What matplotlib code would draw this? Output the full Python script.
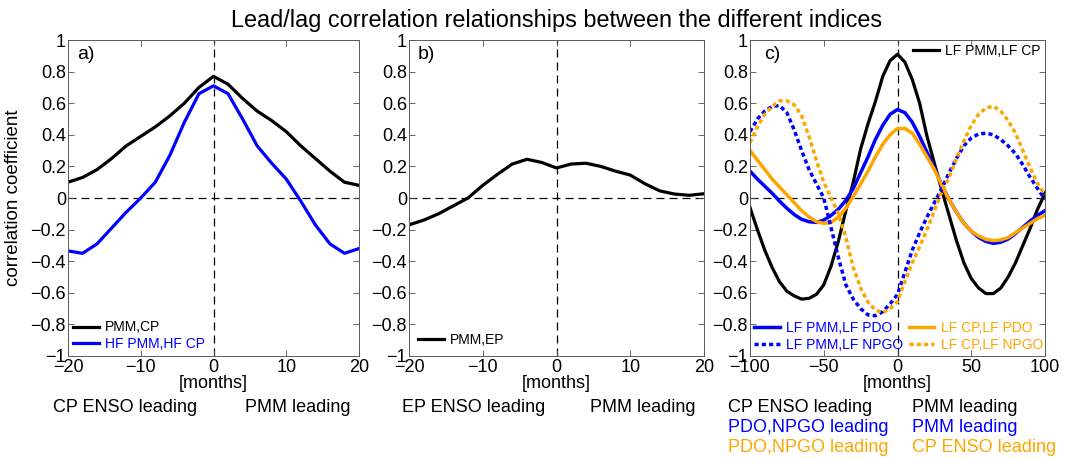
import numpy as np
import matplotlib
matplotlib.use('Agg')
import matplotlib.pyplot as plt

plt.rcParams['font.family'] = ['Liberation Sans', 'DejaVu Sans']

# panel a / b: lags in months
lags_ab = np.arange(-20, 21, 2)
pmm_cp = [0.10, 0.13, 0.18, 0.25, 0.33, 0.39, 0.45, 0.52, 0.60, 0.70, 0.77,
          0.72, 0.63, 0.55, 0.49, 0.42, 0.33, 0.25, 0.17, 0.10, 0.08]
hf_pmm_cp = [-0.335, -0.35, -0.29, -0.19, -0.09, 0.00, 0.10, 0.27, 0.48, 0.66, 0.71,
             0.66, 0.50, 0.33, 0.22, 0.12, -0.02, -0.17, -0.29, -0.35, -0.32]
pmm_ep = [-0.17, -0.14, -0.10, -0.05, 0.00, 0.08, 0.15, 0.215, 0.245, 0.225, 0.19,
          0.215, 0.22, 0.20, 0.17, 0.145, 0.09, 0.045, 0.025, 0.017, 0.027]

# panel c: low-frequency lags
lags_c = np.arange(-100, 101, 5)
lf_pmm_cp = [-0.06, -0.20, -0.33, -0.44, -0.53, -0.59, -0.62, -0.64, -0.635, -0.61,
             -0.55, -0.43, -0.27, -0.08, 0.10, 0.31, 0.47, 0.61, 0.77, 0.87,
             0.91, 0.86, 0.75, 0.60, 0.39, 0.22, 0.05, -0.11, -0.27, -0.41,
             -0.51, -0.57, -0.605, -0.605, -0.57, -0.50, -0.41, -0.30, -0.19, -0.07, 0.03]
lf_pmm_pdo = [0.17, 0.12, 0.075, 0.03, -0.02, -0.065, -0.105, -0.135, -0.15, -0.155,
              -0.14, -0.11, -0.07, -0.015, 0.06, 0.16, 0.26, 0.37, 0.46, 0.53,
              0.56, 0.54, 0.48, 0.39, 0.29, 0.19, 0.08, -0.01, -0.09, -0.16,
              -0.21, -0.25, -0.275, -0.287, -0.28, -0.26, -0.225, -0.185, -0.145, -0.11, -0.08]
lf_cp_pdo = [0.30, 0.24, 0.18, 0.12, 0.07, 0.02, -0.03, -0.08, -0.12, -0.15,
             -0.16, -0.155, -0.12, -0.065, 0.01, 0.09, 0.17, 0.26, 0.34, 0.40,
             0.44, 0.44, 0.41, 0.34, 0.26, 0.18, 0.08, -0.01, -0.09, -0.16,
             -0.21, -0.24, -0.262, -0.27, -0.265, -0.25, -0.22, -0.19, -0.16, -0.13, -0.11]
lf_pmm_npgo = [0.42, 0.50, 0.55, 0.58, 0.585, 0.54, 0.43, 0.30, 0.18, 0.09,
               0.00, -0.19, -0.38, -0.55, -0.64, -0.70, -0.74, -0.745, -0.72, -0.67,
               -0.61, -0.47, -0.33, -0.22, -0.12, -0.03, 0.06, 0.16, 0.25, 0.33,
               0.38, 0.405, 0.41, 0.40, 0.37, 0.33, 0.28, 0.21, 0.13, 0.06, -0.01]
lf_cp_npgo = [0.35, 0.45, 0.53, 0.58, 0.615, 0.615, 0.59, 0.52, 0.39, 0.24,
              0.10, 0.00, -0.10, -0.25, -0.44, -0.57, -0.66, -0.71, -0.725, -0.70,
              -0.655, -0.53, -0.41, -0.31, -0.20, -0.08, 0.04, 0.13, 0.25, 0.36,
              0.46, 0.53, 0.57, 0.58, 0.55, 0.49, 0.41, 0.30, 0.19, 0.09, 0.02]

W, H = 1072, 458
fig = plt.figure(figsize=(W / 100, H / 100), dpi=100)


def px_axes(x0, x1, y0, y1):
    return fig.add_axes([x0 / W, 1 - y1 / H, (x1 - x0) / W, (y1 - y0) / H])


ORANGE = '#ffa500'
BLUE = '#0000ff'


def style(ax, xlim, xticks, label, lx):
    ax.set_xlim(*xlim)
    ax.set_ylim(-1, 1)
    ax.set_xticks(xticks)
    ax.set_yticks(np.arange(-1, 1.01, 0.2))
    ax.set_yticklabels(['\u22121', '\u22120.8', '\u22120.6', '\u22120.4', '\u22120.2', '0',
                        '0.2', '0.4', '0.6', '0.8', '1'])
    ax.tick_params(direction='in', top=True, right=True, labelsize=13,
                   length=4, width=0.6, color='0.3')
    ax.tick_params(axis='y', pad=1.5)
    ax.tick_params(axis='x', pad=2.5)
    for s in ax.spines.values():
        s.set_color('0.35')
        s.set_linewidth(0.7)
    ax.axhline(0, color='k', lw=0.9, ls=(0, (6.4, 4)), zorder=1)
    ax.axvline(0, color='k', lw=0.9, ls=(0, (6.4, 4)), zorder=1)
    ax.text(lx, 0.953, label, transform=ax.transAxes, ha='center', va='center', fontsize=14)
    ax.text(0.5, -0.088, '[months]', transform=ax.transAxes, ha='center', va='center', fontsize=13)


# a)
ax1 = px_axes(68, 359, 40, 356)
l1, = ax1.plot(lags_ab, pmm_cp, color='k', lw=2.3, label='PMM,CP')
l2, = ax1.plot(lags_ab, hf_pmm_cp, color=BLUE, lw=2.3, label='HF PMM,HF CP')
style(ax1, (-20, 20), [-20, -10, 0, 10, 20], 'a)', 0.062)
ax1.set_xticklabels(['\u221220', '\u221210', '0', '10', '20'])
ax1.set_ylabel('correlation coefficient', fontsize=13.5)
ax1.yaxis.set_label_coords(-0.158, 0.5)
ax1.legend(handles=[l1, l2], loc='lower left', bbox_to_anchor=(0.0, 0.0), frameon=False,
           fontsize=10, handlelength=1.85, handletextpad=0.45, labelspacing=0.2,
           borderpad=0.25, borderaxespad=0.1, labelcolor='linecolor')

# b)
ax2 = px_axes(409, 704, 40, 356)
l3, = ax2.plot(lags_ab, pmm_ep, color='k', lw=2.3, label='PMM,EP')
style(ax2, (-20, 20), [-20, -10, 0, 10, 20], 'b)', 0.058)
ax2.set_xticklabels(['\u221220', '\u221210', '0', '10', '20'])
ax2.legend(handles=[l3], loc='lower left', bbox_to_anchor=(0.0, 0.0), frameon=False,
           fontsize=10, handlelength=1.85, handletextpad=0.45,
           borderpad=0.25, borderaxespad=0.4, labelcolor='linecolor')

# c)
ax3 = px_axes(750, 1045, 40, 356)
k, = ax3.plot(lags_c, lf_pmm_cp, color='k', lw=2.3, label='LF PMM,LF CP')
bs, = ax3.plot(lags_c, lf_pmm_pdo, color=BLUE, lw=2.5, label='LF PMM,LF PDO')
os_, = ax3.plot(lags_c, lf_cp_pdo, color=ORANGE, lw=2.5, label='LF CP,LF PDO')
bd, = ax3.plot(lags_c, lf_pmm_npgo, color=BLUE, lw=2.5, ls=(0, (1.2, 0.9)), label='LF PMM,LF NPGO')
od, = ax3.plot(lags_c, lf_cp_npgo, color=ORANGE, lw=2.5, ls=(0, (1.2, 0.9)), label='LF CP,LF NPGO')
style(ax3, (-100, 100), [-100, -50, 0, 50, 100], 'c)', 0.075)
ax3.set_xticklabels(['\u2212100', '\u221250', '0', '50', '100'])
leg_top = ax3.legend(handles=[k], loc='upper right', bbox_to_anchor=(1.0, 1.0), frameon=False,
                     fontsize=10, handlelength=1.85, handletextpad=0.45,
                     borderpad=0.2, borderaxespad=0.1)
ax3.add_artist(leg_top)
ax3.legend(handles=[bs, bd, os_, od], ncol=2, loc='lower left', bbox_to_anchor=(0.0, 0.0),
           frameon=False, fontsize=10, handlelength=1.85, handletextpad=0.45,
           labelspacing=0.2, columnspacing=0.4, borderpad=0.25, borderaxespad=0.05,
           labelcolor='linecolor')

fig.suptitle('Lead/lag correlation relationships between the different indices',
             x=557 / W, y=1 - 21 / H, va='center', fontsize=16.9)

# lead annotations under the panels
rows = [1 - 407 / H, 1 - 427 / H, 1 - 447 / H]
fig.text(53 / W, rows[0], 'CP ENSO leading', fontsize=13, va='center')
fig.text(245 / W, rows[0], 'PMM leading', fontsize=13, va='center')
fig.text(402 / W, rows[0], 'EP ENSO leading', fontsize=13, va='center')
fig.text(590 / W, rows[0], 'PMM leading', fontsize=13, va='center')
fig.text(728 / W, rows[0], 'CP ENSO leading', fontsize=13, va='center', color='k')
fig.text(912 / W, rows[0], 'PMM leading', fontsize=13, va='center', color='k')
fig.text(728 / W, rows[1], 'PDO,NPGO leading', fontsize=13, va='center', color=BLUE)
fig.text(912 / W, rows[1], 'PMM leading', fontsize=13, va='center', color=BLUE)
fig.text(728 / W, rows[2], 'PDO,NPGO leading', fontsize=13, va='center', color=ORANGE)
fig.text(912 / W, rows[2], 'CP ENSO leading', fontsize=13, va='center', color=ORANGE)

fig.savefig('out.png', dpi=100)
